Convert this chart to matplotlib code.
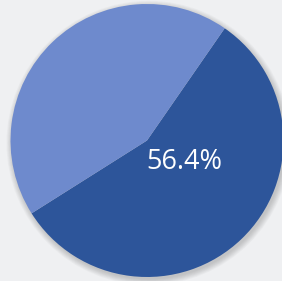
import matplotlib.pyplot as plt
from matplotlib.patches import Circle

# share values (percent)
labels = ['Group A', 'Group B']
shares = [56.4, 43.6]
colors = ['#2d559a', '#6e8acd']

fig = plt.figure(figsize=(2.82, 2.81), dpi=100)
fig.patch.set_facecolor('#eff0f2')
ax = fig.add_axes([0, 0, 1, 1])
ax.set_facecolor('#eff0f2')

# soft drop shadow behind the pie
for i in range(8):
    ax.add_patch(Circle((0.012, -0.018), 1.0 + i * 0.006, color='black',
                        alpha=0.025, lw=0, zorder=0))

wedges, _ = ax.pie(shares, colors=colors, startangle=55.3, counterclock=False,
                   radius=1.0, wedgeprops={'linewidth': 0, 'zorder': 1})
for w in wedges:
    w.set_zorder(2)

ax.text(0.275, -0.16, f'{shares[0]}%', color='white', fontsize=19.5,
        family=['Open Sans', 'DejaVu Sans'], fontweight='normal',
        ha='center', va='center', zorder=3)

ax.set_xlim(-1.077, 0.989)
ax.set_ylim(-1.029, 1.029)
ax.set_aspect('equal')
ax.axis('off')

plt.savefig('out.png', dpi=100, facecolor=fig.get_facecolor())
